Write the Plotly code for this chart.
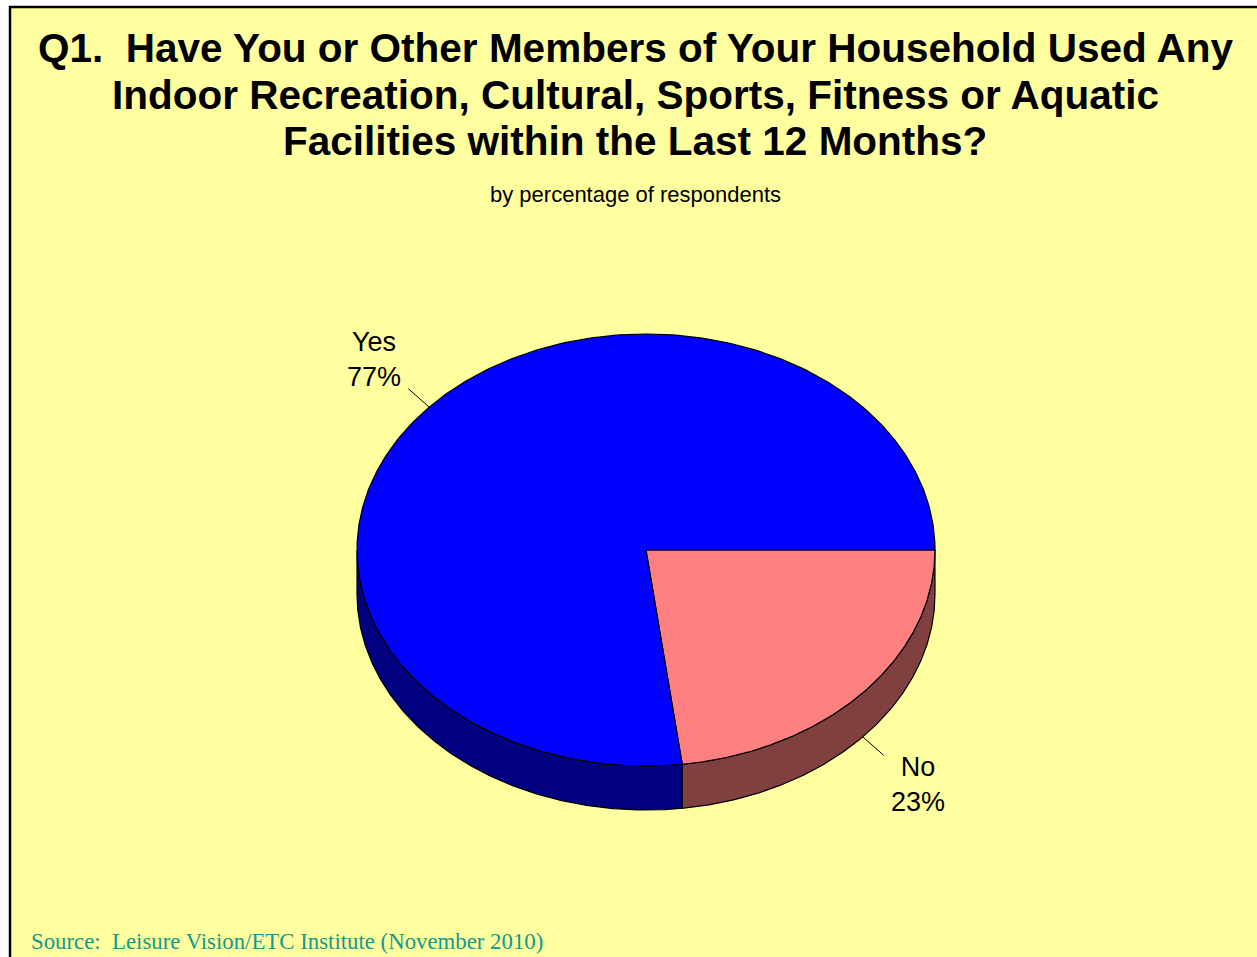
import numpy as np
import plotly.graph_objects as go

# Survey result
categories = ["No", "Yes"]
percentages = [23, 77]
top_colors = ["#FF8080", "#0000FF"]
side_colors = ["#804040", "#000080"]

title_lines = [
    "Q1.  Have You or Other Members of Your Household Used Any",
    "Indoor Recreation, Cultural, Sports, Fitness or Aquatic",
    "Facilities within the Last 12 Months?",
]
subtitle = "by percentage of respondents"
source_text = "Source:  Leisure Vision/ETC Institute (November 2010)"

W, H = 1257, 957
BG = "#FFFFA0"

# Pie geometry (pixel space; axes map 1:1 to pixels)
cx, cy = 646, 550
rx, ry = 289, 216
depth = 44

fig = go.Figure()


def arc(t0, t1, n=200):
    t = np.linspace(np.radians(t0), np.radians(t1), n)
    return cx + rx * np.cos(t), cy + ry * np.sin(t)


# angular extents, starting at 3 o'clock and running clockwise on screen
total = sum(percentages)
bounds = []
start = 0.0
for p in percentages:
    end = start + 360.0 * p / total
    bounds.append((start, end))
    start = end

# side walls (only front half, 0..180 deg, is visible)
for (s, e), col in zip(bounds, side_colors):
    a0, a1 = max(s, 0), min(e, 180)
    if a1 <= a0:
        continue
    xt, yt = arc(a0, a1)
    xs = np.concatenate([xt, xt[::-1], xt[:1]])
    ys = np.concatenate([yt, yt[::-1] + depth, yt[:1]])
    fig.add_trace(go.Scatter(x=xs, y=ys, mode="lines", fill="toself",
                             fillcolor=col, line=dict(color="black", width=1.2),
                             hoverinfo="skip", showlegend=False))

# top faces
for (s, e), col, name in zip(bounds, top_colors, categories):
    xa, ya = arc(s, e, 400)
    xs = np.concatenate([[cx], xa, [cx]])
    ys = np.concatenate([[cy], ya, [cy]])
    fig.add_trace(go.Scatter(x=xs, y=ys, mode="lines", fill="toself",
                             fillcolor=col, line=dict(color="black", width=1.2),
                             hoverinfo="skip", showlegend=False, name=name))

# labels with leader lines
annotations = []
for (s, e), name, p in zip(bounds, categories, percentages):
    mid = np.radians((s + e) / 2)
    dx, dy = np.cos(mid), np.sin(mid)
    px, py = cx + rx * dx, cy + ry * dy
    if 0 < np.degrees(mid) < 180:
        py += depth
    lead = 28
    fig.add_trace(go.Scatter(x=[px, px + lead * dx], y=[py, py + lead * dy],
                             mode="lines", line=dict(color="black", width=1),
                             hoverinfo="skip", showlegend=False))
    lx, ly = px + 73 * dx, py + 72 * dy
    annotations.append(dict(x=lx, y=ly, xref="x", yref="y",
                            text=f"{name}<br>{p}%", showarrow=False,
                            font=dict(family="Arial, Liberation Sans", size=27, color="black"),
                            align="center", xanchor="center", yanchor="middle"))

for line, ty in zip(title_lines, [48, 95, 141]):
    annotations.append(dict(x=635, y=ty, xref="x", yref="y",
                            text=f"<b>{line}</b>", showarrow=False,
                            font=dict(family="Arial, Liberation Sans", size=40.5, color="black"),
                            xanchor="center", yanchor="middle"))
annotations.append(dict(x=635, y=194, xref="x", yref="y", text=subtitle, showarrow=False,
                        font=dict(family="Arial, Liberation Sans", size=22, color="black"),
                        xanchor="center", yanchor="middle"))
annotations.append(dict(x=29, y=941, xref="x", yref="y", text=source_text, showarrow=False,
                        font=dict(family="Times New Roman, Liberation Serif", size=22.8, color="#129A8C"),
                        xanchor="left", yanchor="middle"))

fig.update_layout(
    width=W, height=H,
    margin=dict(l=0, r=0, t=0, b=0),
    paper_bgcolor="white", plot_bgcolor="white",
    xaxis=dict(range=[0, W], visible=False, fixedrange=True),
    yaxis=dict(range=[H, 0], visible=False, fixedrange=True),
    annotations=annotations,
    shapes=[dict(type="rect", xref="x", yref="y", x0=10, y0=7, x1=W + 10, y1=H + 10,
                 fillcolor=BG, line=dict(color="black", width=2.5), layer="below")],
    showlegend=False,
)

fig.write_html("out.html")
